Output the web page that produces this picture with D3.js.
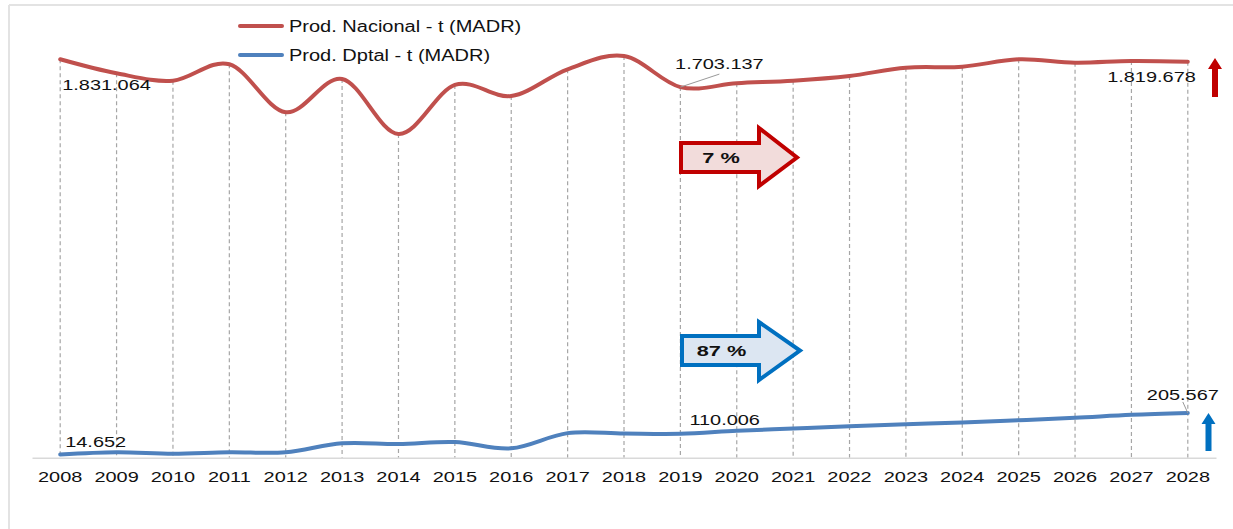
<!DOCTYPE html>
<html>
<head>
<meta charset="utf-8">
<script src="https://cdn.jsdelivr.net/npm/d3@7"></script>
<style>
  html, body { margin: 0; padding: 0; background: #fff; }
  svg { display: block; font-family: "Liberation Sans", Arial, sans-serif; }
</style>
</head>
<body>
<svg id="chart" width="1233" height="529"></svg>
<script>
// Production series (tonnes), 2008–2028
const years = [2008, 2009, 2010, 2011, 2012, 2013, 2014, 2015, 2016, 2017, 2018,
               2019, 2020, 2021, 2022, 2023, 2024, 2025, 2026, 2027, 2028];
const nacional = [1831064, 1766700, 1732700, 1808100, 1587500, 1740500, 1487700,
                  1713000, 1662400, 1785100, 1846200, 1703137, 1720700, 1732700,
                  1754300, 1792400, 1797000, 1831000, 1815400, 1823200, 1819678];
const dptal = [14652, 24800, 18400, 24800, 24800, 66200, 63000, 72200, 43200,
               113000, 111000, 110006, 123600, 134200, 144800, 154000, 161800,
               172300, 183400, 197200, 205567];
const seriesNames = ["Prod. Nacional - t (MADR)", "Prod. Dptal - t (MADR)"];
const growthLabels = ["7 %", "87 %"];
// years whose values are printed on the chart
const labelledNacional = [2008, 2019, 2028];
const labelledDptal = [2008, 2019, 2028];

const RED = "#c0504d", BLUE = "#4f81bd";
const DARK_RED = "#c00000", DARK_BLUE = "#0070c0";

const svg = d3.select("#chart");
const fmt = v => d3.format(",")(v).replace(/,/g, ".");

const x = d3.scalePoint().domain(years).range([32, 1216]).padding(0.5);
const y = d3.scaleLinear().domain([0, 2000000]).range([457.7, 22.5]);

// text helper: horizontally widened glyphs
function label(g, txt, px, py, opts = {}) {
  const sx = opts.sx || 1.33;
  const t = g.append("text")
    .attr("transform", `translate(${px},${py}) scale(${sx},1)`)
    .attr("font-size", opts.size || 15)
    .attr("font-weight", opts.weight || "normal")
    .attr("fill", opts.fill || "#111")
    .attr("text-anchor", opts.anchor || "start")
    .text(txt);
  if (opts.space) t.attr("xml:space", "preserve");
  return t;
}

// outer frame (top and left edges)
svg.append("line").attr("x1", 9).attr("x2", 1233).attr("y1", 5).attr("y2", 5)
  .attr("stroke", "#e3e3e3").attr("stroke-width", 2);
svg.append("line").attr("x1", 9).attr("x2", 9).attr("y1", 5).attr("y2", 529)
  .attr("stroke", "#e3e3e3").attr("stroke-width", 2);

// drop lines from the national series to the axis
svg.append("g").selectAll("line").data(years).join("line")
  .attr("x1", d => x(d)).attr("x2", d => x(d))
  .attr("y1", (d, i) => y(nacional[i])).attr("y2", y(0))
  .attr("stroke", "#a6a6a6").attr("stroke-width", 1.2)
  .attr("stroke-dasharray", "4,3");

// x axis
const axis = svg.append("g").attr("transform", `translate(0,${y(0)})`)
  .call(d3.axisBottom(x).tickSize(0).tickFormat(() => ""));
axis.select(".domain").attr("stroke", "#d9d9d9").attr("stroke-width", 1.5);
const tickLabels = svg.append("g");
years.forEach(yr => label(tickLabels, String(yr), x(yr), 482, { anchor: "middle" }));

// series lines
const line = data => d3.line()
  .x((d, i) => x(years[i]))
  .y(d => y(d))
  .curve(d3.curveCardinal.tension(0))(data);

svg.append("path").attr("d", line(nacional)).attr("fill", "none")
  .attr("stroke", RED).attr("stroke-width", 4).attr("stroke-linecap", "round");
svg.append("path").attr("d", line(dptal)).attr("fill", "none")
  .attr("stroke", BLUE).attr("stroke-width", 4).attr("stroke-linecap", "round");

// value labels
const vl = svg.append("g");
const iN = yr => years.indexOf(yr);
{
  const [a, b, c] = labelledNacional;
  label(vl, fmt(nacional[iN(a)]), x(a) + 2, y(nacional[iN(a)]) + 31);
  const px = x(b), py = y(nacional[iN(b)]);
  vl.append("line").attr("x1", px).attr("y1", py).attr("x2", px + 39).attr("y2", py - 13)
    .attr("stroke", "#999").attr("stroke-width", 1);
  label(vl, fmt(nacional[iN(b)]), px + 39, py - 18, { anchor: "middle" });
  label(vl, fmt(nacional[iN(c)]), x(c) + 8, y(nacional[iN(c)]) + 20, { anchor: "end" });
}
{
  const [a, b, c] = labelledDptal;
  label(vl, fmt(dptal[iN(a)]), x(a) + 5, y(dptal[iN(a)]) - 8);
  label(vl, fmt(dptal[iN(b)]), x(b) + 9, y(dptal[iN(b)]) - 9);
  const px = x(c), py = y(dptal[iN(c)]);
  vl.append("line").attr("x1", px).attr("y1", py).attr("x2", px - 5).attr("y2", py - 11)
    .attr("stroke", "#999").attr("stroke-width", 1);
  label(vl, fmt(dptal[iN(c)]), px - 5, py - 13, { anchor: "middle" });
}

// legend
const legend = svg.append("g");
[[RED, 26, 31.5], [BLUE, 55, 61]].forEach(([col, ly, ty], i) => {
  legend.append("line").attr("x1", 240).attr("x2", 282).attr("y1", ly).attr("y2", ly)
    .attr("stroke", col).attr("stroke-width", 4).attr("stroke-linecap", "round");
  label(legend, seriesNames[i], 289, ty, { size: 16, sx: 1.25 });
});

// growth block arrows
function blockArrow(x0, yTop, yBot, xHead, hTop, hBot, xTip, stroke, fill, txt) {
  const yMid = (yTop + yBot) / 2;
  const pts = [[x0, yTop], [xHead, yTop], [xHead, hTop], [xTip, yMid],
               [xHead, hBot], [xHead, yBot], [x0, yBot]];
  svg.append("path").attr("d", d3.line()(pts) + "Z")
    .attr("fill", fill).attr("stroke", stroke).attr("stroke-width", 4)
    .attr("stroke-linejoin", "miter");
  label(svg, txt, (x0 + xHead) / 2 + 1, yMid + 5.5,
    { anchor: "middle", weight: "bold", size: 15, sx: 1.45, space: true });
}
blockArrow(681, 143, 172, 759, 128, 186, 797, DARK_RED, "#f2dcdb", growthLabels[0]);
blockArrow(682, 336, 365, 759, 322, 380, 800, DARK_BLUE, "#dce6f2", growthLabels[1]);

// trend arrows at the right edge
function upArrow(cx, tip, bottom, col) {
  const hw = 7, sw = 3, hb = tip + 11;
  const pts = [[cx, tip], [cx + hw, hb], [cx + sw, hb], [cx + sw, bottom],
               [cx - sw, bottom], [cx - sw, hb], [cx - hw, hb]];
  svg.append("path").attr("d", d3.line()(pts) + "Z").attr("fill", col);
}
upArrow(1215, 58, 97, DARK_RED);
upArrow(1208.5, 413, 451, DARK_BLUE);
</script>
</body>
</html>
